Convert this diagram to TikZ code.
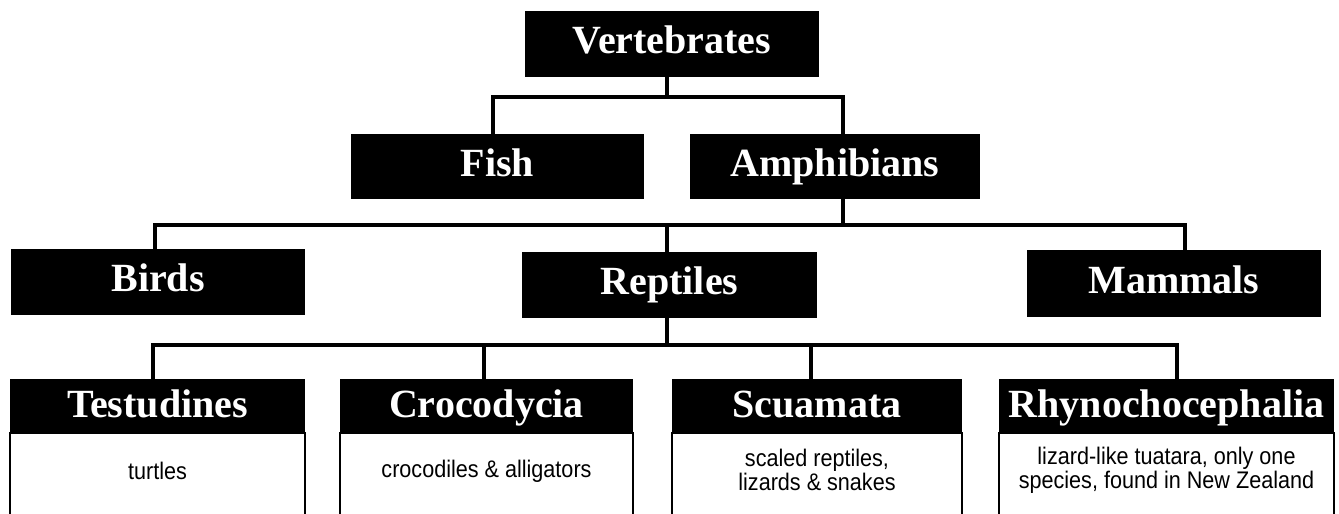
\documentclass[tikz,border=0pt]{standalone}
\usepackage{fontspec}
\setmainfont{Liberation Serif}
\newfontfamily\bodyfont[FakeStretch=0.9]{Liberation Sans}
\usetikzlibrary{calc}
\begin{document}
\begin{tikzpicture}[x=1pt,y=-1pt,
  conn/.style={line width=3.8pt, line cap=rect, line join=miter},
  cat/.style={fill=black, text=white, inner sep=0pt, text height=30pt, text depth=10.5pt, font=\fontsize{40}{44}\selectfont\bfseries},
  sub/.style={fill=black, text=white, inner sep=0pt, minimum height=53pt, text height=32pt, text depth=8pt, font=\fontsize{40}{44}\selectfont\bfseries},
  body/.style={draw=black, line width=2pt, fill=white, minimum height=100pt, anchor=north, inner sep=0pt},
  desc/.style={align=center, font=\bodyfont\fontsize{24}{24}\selectfont, inner sep=0pt}]
\useasboundingbox (0,0) rectangle (1339,514);
\clip (0,0) rectangle (1339,514);

% category boxes
\node[cat, minimum width=294pt, minimum height=66pt] (vert) at (672,44) {Vertebrates};
\node[cat, minimum width=293pt, minimum height=65pt] (fish) at (497.5,166.5) {Fish};
\node[cat, minimum width=290pt, minimum height=65pt] (amph) at (835,166.5) {Amphibians};
\node[cat, minimum width=294pt, minimum height=66pt] (birds) at (158,282) {Birds};
\node[cat, minimum width=295pt, minimum height=66pt] (rept) at (669.5,285) {Reptiles};
\node[cat, minimum width=294pt, minimum height=67pt] (mamm) at (1174,283.5) {Mammals};

% reptile orders: headers
\node[sub, minimum width=295pt] (test) at (157.5,405.5) {Testudines};
\node[sub, minimum width=293pt] (croc) at (486.5,405.5) {Crocodycia};
\node[sub, minimum width=290pt] (scua) at (817,405.5) {Scuamata};
\node[sub, minimum width=335pt] (rhyn) at (1166.5,405.5) {Rhynochocephalia};

% reptile orders: bodies
\node[body, minimum width=295pt] (testB) at (test.south) {};
\node[body, minimum width=293pt] (crocB) at (croc.south) {};
\node[body, minimum width=290pt] (scuaB) at (scua.south) {};
\node[body, minimum width=335pt] (rhynB) at (rhyn.south) {};

\node[desc] (testD) at ($(test.south)+(0,39)$) {turtles};
\node[desc] (crocD) at ($(croc.south)+(0,39)$) {crocodiles \& alligators};
\node[desc] (scuaD) at ($(scua.south)+(0,38)$) {scaled reptiles,\\lizards \& snakes};
\node[desc] (rhynD) at ($(rhyn.south)+(0,38)$) {lizard-like tuatara, only one\\species, found in New Zealand};

% connectors level 1
\coordinate (vA) at (667,97);
\coordinate (fA) at (493,97);
\coordinate (aA) at (843,97);
\draw[conn] (vert.south -| vA) -- (vA);
\draw[conn] (fish.north -| fA) -- (fA) -- (aA) -- (amph.north -| aA);

% connectors level 2
\coordinate (aB) at (843,225);
\coordinate (bB) at (155,225);
\coordinate (rB) at (667,225);
\coordinate (mB) at (1185,225);
\draw[conn] (amph.south -| aB) -- (aB);
\draw[conn] (birds.north -| bB) -- (bB) -- (mB) -- (mamm.north -| mB);
\draw[conn] (rB) -- (rept.north -| rB);

% connectors level 3
\coordinate (rC) at (667,345);
\coordinate (tC) at (153,345);
\coordinate (cC) at (484,345);
\coordinate (sC) at (811,345);
\coordinate (hC) at (1177,345);
\draw[conn] (rept.south -| rC) -- (rC);
\draw[conn] (test.north -| tC) -- (tC) -- (hC) -- (rhyn.north -| hC);
\draw[conn] (cC) -- (croc.north -| cC);
\draw[conn] (sC) -- (scua.north -| sC);
\end{tikzpicture}
\end{document}
